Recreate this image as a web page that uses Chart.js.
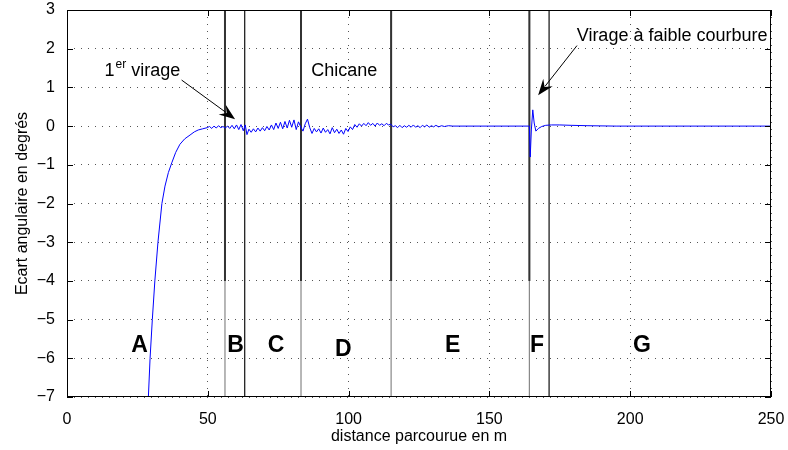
<!DOCTYPE html>
<html>
<head>
<meta charset="utf-8">
<script src="https://cdn.jsdelivr.net/npm/chart.js@4/dist/chart.umd.min.js"></script>
<style>
  html, body { margin: 0; padding: 0; background: #fff; }
</style>
</head>
<body>
<canvas id="chart" width="788" height="450"></canvas>
<script>
// distance parcourue (m) / ecart angulaire (deg)
const distance = [
  28.9, 29.5, 30.3, 31.2, 32.3, 33.7, 34.8, 36.0, 37.2, 38.6, 40.1, 41.8, 43.7, 45.2, 46.6, 48.2, 49.8,
  50.6, 51.4, 52.2, 53.0, 53.8, 54.6, 55.4, 56.2, 57.0, 57.8, 58.6, 59.4, 60.2, 61.0, 61.8, 62.6, 63.3,
  63.9, 64.6, 65.4, 66.2, 67.0, 67.8, 68.6, 69.4, 70.2, 71.0, 71.8, 72.6, 73.4, 74.2, 75.0, 75.8, 76.6, 77.4, 78.2, 79.0, 79.8, 80.6, 81.4, 82.2, 83.0,
  83.8, 84.6, 85.4, 86.2, 87.0, 87.8, 88.6, 89.4, 90.2, 91.0,
  91.8, 92.6, 93.4, 94.2, 95.0, 95.8, 96.6, 97.4, 98.2, 99.0,
  99.8, 100.6, 101.4, 102.2, 103.0, 103.8, 104.6, 105.4, 106.2, 107.0,
  107.8, 108.6, 109.4, 110.2, 111.0, 111.8, 112.6, 113.4, 114.2, 115.0,
  115.8, 116.6, 117.4, 118.2, 119.0, 119.8, 120.6, 121.4, 122.2, 123.0,
  123.8, 124.6, 125.4, 126.2, 127.0, 127.8, 128.6, 129.4, 130.2, 131.0,
  132.0, 133.0, 134.0, 135.5, 137.0,
  164.2, 164.5, 164.9, 165.4, 165.9, 166.5, 167.4, 168.6, 170.0, 172.0, 175.0, 179.0, 185.0, 195.0, 250.0,
];
const ecart = [
  -7.0, -6.0, -5.0, -4.0, -3.0, -2.0, -1.55, -1.2, -0.95, -0.68, -0.47, -0.33, -0.23, -0.15, -0.1, -0.07, -0.04,
  -0.01, -0.06, 0.0, -0.05, 0.01, -0.04, -0.01, -0.05, 0.0, -0.06, 0.02, -0.07, 0.03, -0.09, 0.04, -0.12, 0.03,
  -0.22, -0.08, -0.16, -0.07, -0.15, -0.05, -0.13, -0.04, -0.12, -0.01, -0.1, 0.03, -0.09, 0.08, -0.06, 0.1, -0.07, 0.12, -0.05, 0.15, -0.03, 0.16, -0.09, 0.11, -0.02,
  -0.13, 0.06, 0.18, -0.04, -0.19, -0.06, -0.15, -0.07, -0.18, -0.05,
  -0.16, -0.09, -0.2, -0.04, -0.17, -0.08, -0.19, -0.1, -0.21, -0.06,
  -0.14, -0.02, -0.09, 0.04, -0.03, 0.06, 0.0, 0.07, 0.01, 0.09,
  0.02, 0.07, 0.0, 0.08, 0.02, 0.06, 0.01, 0.07, 0.03, 0.05,
  -0.02, 0.01, -0.04, 0.02, -0.04, 0.01, -0.03, 0.02, -0.03, 0.03,
  -0.03, 0.01, -0.04, 0.02, -0.02, 0.03, -0.03, 0.01, -0.02, 0.02,
  -0.02, 0.01, -0.01, 0.01, 0.0,
  0.0, -0.8, -0.1, 0.42, 0.08, -0.13, -0.06, -0.01, 0.02, 0.03, 0.03, 0.02, 0.01, 0.0, 0.0,
];

// section boundaries (m)
const boundsMarked = [56.1, 83.1, 115.1, 164.2];
const boundsPlain = [63.1, 171.2];

const xTicks = [0, 50, 100, 150, 200, 250];
const yTicks = [3, 2, 1, 0, -1, -2, -3, -4, -5, -6, -7];
const zoneNames = ["A", "B", "C", "D", "E", "F", "G"];
const zoneCenters = [25.8, 59.9, 74.2, 98.1, 137.0, 166.9, 204.2];

const FONT = '"Liberation Sans", Arial, Helvetica, sans-serif';
const xMin = xTicks[0], xMax = xTicks[xTicks.length - 1];
const yMin = yTicks[yTicks.length - 1], yMax = yTicks[0];

function vline(x, top, bottom, color, width) {
  return {
    data: [{ x, y: top }, { x, y: bottom }],
    borderColor: color,
    borderWidth: width,
    pointRadius: 0,
  };
}

const datasets = [
  {
    data: distance.map((d, i) => ({ x: d, y: ecart[i] })),
    borderColor: "#0000ff",
    borderWidth: 1,
    pointRadius: 0,
    tension: 0,
  },
];
boundsPlain.forEach((b) => datasets.push(vline(b, yMax, yMin, "#222", 1.3)));
boundsMarked.forEach((b) => {
  datasets.push(vline(b, yMax, -4, "#333", 2));
  datasets.push(vline(b, yMax, yMin, "#888", 1.2));
});

function drawArrow(ctx, x0, y0, x1, y1) {
  const ang = Math.atan2(y1 - y0, x1 - x0);
  const len = 16, half = 6;
  const c = Math.cos(ang), s = Math.sin(ang);
  ctx.beginPath();
  ctx.moveTo(x0, y0);
  ctx.lineTo(x1 - len * 0.7 * c, y1 - len * 0.7 * s);
  ctx.stroke();
  ctx.beginPath();
  ctx.moveTo(x1, y1);
  ctx.lineTo(x1 - len * c + half * s, y1 - len * s - half * c);
  ctx.lineTo(x1 - len * 0.65 * c, y1 - len * 0.65 * s);
  ctx.lineTo(x1 - len * c - half * s, y1 - len * s + half * c);
  ctx.closePath();
  ctx.fill();
}

const overlay = {
  id: "overlay",
  afterDatasetsDraw(chart) {
    const { ctx, chartArea: a, scales } = chart;
    const x = scales.x, y = scales.y;
    ctx.save();
    ctx.strokeStyle = "#000";
    ctx.fillStyle = "#000";
    ctx.lineWidth = 1;
    ctx.strokeRect(a.left + 0.5, a.top + 0.5, a.right - a.left - 1, a.bottom - a.top - 1);

    // inward ticks
    ctx.beginPath();
    xTicks.forEach((v) => {
      const px = Math.round(x.getPixelForValue(v)) + 0.5;
      ctx.moveTo(px, a.bottom); ctx.lineTo(px, a.bottom - 6);
      ctx.moveTo(px, a.top); ctx.lineTo(px, a.top + 6);
    });
    yTicks.forEach((v) => {
      const py = Math.round(y.getPixelForValue(v)) + 0.5;
      ctx.moveTo(a.left, py); ctx.lineTo(a.left + 6, py);
      ctx.moveTo(a.right, py); ctx.lineTo(a.right - 6, py);
    });
    ctx.stroke();

    // zone letters
    ctx.font = `bold 23px ${FONT}`;
    ctx.textAlign = "center";
    ctx.textBaseline = "middle";
    zoneNames.forEach((n, i) => {
      ctx.fillText(n, x.getPixelForValue(zoneCenters[i]), y.getPixelForValue(n === "D" ? -5.78 : -5.68));
    });

    // annotations
    ctx.textAlign = "left";
    ctx.textBaseline = "alphabetic";
    ctx.font = `18px ${FONT}`;
    let tx = x.getPixelForValue(13.3);
    const ty = y.getPixelForValue(1.29);
    ctx.fillText("1", tx, ty);
    tx += ctx.measureText("1").width;
    ctx.font = `12px ${FONT}`;
    ctx.fillText("er", tx + 1, ty - 8);
    tx += ctx.measureText("er").width + 1;
    ctx.font = `18px ${FONT}`;
    ctx.fillText(" virage", tx, ty);

    ctx.fillText("Chicane", x.getPixelForValue(86.7), y.getPixelForValue(1.29));
    ctx.fillText("Virage \u00e0 faible courbure", x.getPixelForValue(181.0), y.getPixelForValue(2.21));

    ctx.lineWidth = 1;
    drawArrow(ctx, x.getPixelForValue(40.7), y.getPixelForValue(1.19), x.getPixelForValue(59.7), y.getPixelForValue(0.18));
    drawArrow(ctx, x.getPixelForValue(181.1), y.getPixelForValue(2.08), x.getPixelForValue(167.3), y.getPixelForValue(0.8));
    ctx.restore();
  },
};

const gridStyle = {
  color: "#555",
  lineWidth: 1,
  drawTicks: false,
  borderDash: [1, 6],
};

function noPad(s) {
  s.paddingTop = 0;
  s.paddingBottom = 0;
  s.paddingLeft = 0;
  s.paddingRight = 0;
}

new Chart(document.getElementById("chart"), {
  type: "line",
  data: { datasets },
  plugins: [overlay],
  options: {
    responsive: false,
    animation: false,
    events: [],
    layout: { padding: { top: 10, right: 17, left: 0, bottom: 0 } },
    plugins: { legend: { display: false }, tooltip: { enabled: false } },
    scales: {
      x: {
        type: "linear",
        min: xMin,
        max: xMax,
        afterBuildTicks: (s) => { s.ticks = xTicks.map((v) => ({ value: v })); },
        afterFit: (s) => { s.height = 53; noPad(s); },
        grid: gridStyle,
        border: { display: false, dash: [1, 6] },
        ticks: { color: "#000", font: { family: FONT, size: 16 }, padding: 13, maxRotation: 0 },
        title: {
          display: true,
          text: "distance parcourue en m",
          color: "#000",
          font: { family: FONT, size: 16 },
          padding: { top: 0, bottom: 4 },
        },
      },
      y: {
        type: "linear",
        min: yMin,
        max: yMax,
        afterBuildTicks: (s) => { s.ticks = yTicks.map((v) => ({ value: v })); },
        afterFit: (s) => { s.width = 67; noPad(s); },
        grid: gridStyle,
        border: { display: false, dash: [1, 6] },
        ticks: {
          color: "#000",
          font: { family: FONT, size: 16 },
          padding: 12,
          callback: (v) => (v < 0 ? "\u2212" + Math.abs(v) : String(v)),
        },
        title: {
          display: true,
          text: "Ecart angulaire en degr\u00e9s",
          color: "#000",
          font: { family: FONT, size: 16 },
          padding: { top: 13, bottom: 0 },
        },
      },
    },
  },
});
</script>
</body>
</html>
